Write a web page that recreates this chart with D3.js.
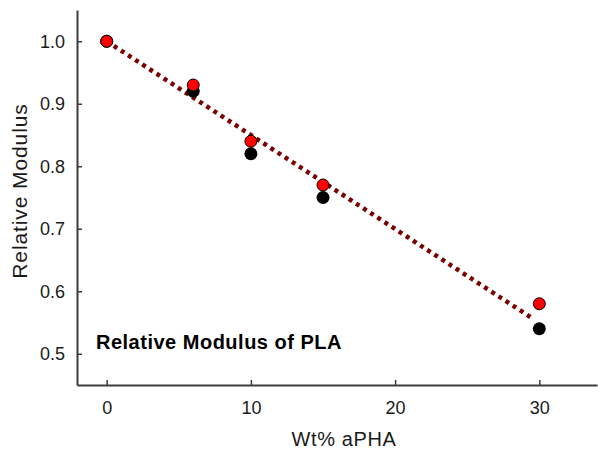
<!DOCTYPE html>
<html>
<head>
<meta charset="utf-8">
<script src="https://cdn.jsdelivr.net/npm/d3@7"></script>
<style>
  html, body { margin: 0; padding: 0; background: #fff; }
  svg { display: block; }
  text { font-family: Arial, "Liberation Sans", sans-serif; }
</style>
</head>
<body>
<svg id="chart" width="598" height="450"></svg>
<script>
// ---- data ----
const xValues = [0, 6, 10, 15, 30];
const blackValues = [1.00, 0.92, 0.82, 0.75, 0.54];
const redValues = [1.00, 0.93, 0.84, 0.77, 0.58];
const fitX = [0, 29.5];
const fitY = [1.0, 0.557];
const xTicks = [0, 10, 20, 30];
const yTicks = [0.5, 0.6, 0.7, 0.8, 0.9, 1.0];
const xTitle = "Wt% aPHA";
const yTitle = "Relative Modulus";
const chartNote = "Relative Modulus of PLA";

// ---- layout ----
const svg = d3.select("#chart");
const mLeft = 77, mRight = 597, mTop = 10, mBottom = 385;

const x = d3.scaleLinear().domain([-2.06, 34]).range([mLeft, mRight]);
const y = d3.scaleLinear().domain([0.45, 1.05]).range([mBottom, mTop]);

const axisColor = "#3c3c3c";
const textColor = "#1a1a1a";

// x axis
const xAxis = svg.append("g")
  .attr("transform", `translate(0,${mBottom})`)
  .call(d3.axisBottom(x).tickValues(xTicks).tickFormat(d3.format("d"))
    .tickSizeInner(-5).tickSizeOuter(0).tickPadding(16));
xAxis.select(".domain").attr("stroke", axisColor).attr("stroke-width", 2);
xAxis.selectAll(".tick line").attr("stroke", axisColor).attr("stroke-width", 1.5);
xAxis.selectAll(".tick text").attr("fill", textColor).attr("font-size", 18)
  .attr("font-family", "Arial, 'Liberation Sans', sans-serif");

// y axis
const yAxis = svg.append("g")
  .attr("transform", `translate(${mLeft},0)`)
  .call(d3.axisLeft(y).tickValues(yTicks).tickFormat(d3.format(".1f"))
    .tickSizeInner(-5).tickSizeOuter(0).tickPadding(12));
yAxis.select(".domain").attr("stroke", axisColor).attr("stroke-width", 2);
yAxis.selectAll(".tick line").attr("stroke", axisColor).attr("stroke-width", 1.5);
yAxis.selectAll(".tick text").attr("fill", textColor).attr("font-size", 18)
  .attr("font-family", "Arial, 'Liberation Sans', sans-serif");

// fit line (dotted)
const line = d3.line().x(d => x(d[0])).y(d => y(d[1]));
svg.append("path")
  .datum(fitX.map((v, i) => [v, fitY[i]]))
  .attr("d", line)
  .attr("fill", "none")
  .attr("stroke", "#7a0000")
  .attr("stroke-width", 4.5)
  .attr("stroke-dasharray", "4,4.5");

// black points
svg.append("g").selectAll("circle")
  .data(xValues.map((v, i) => [v, blackValues[i]]))
  .join("circle")
  .attr("cx", d => x(d[0])).attr("cy", d => y(d[1]))
  .attr("r", 6.5).attr("fill", "#000");

// red points
svg.append("g").selectAll("circle")
  .data(xValues.map((v, i) => [v, redValues[i]]))
  .join("circle")
  .attr("cx", d => x(d[0])).attr("cy", d => y(d[1]))
  .attr("r", 6).attr("fill", "#ff0000")
  .attr("stroke", "#000").attr("stroke-width", 1);

// axis titles
svg.append("text")
  .attr("x", 344).attr("y", 446)
  .attr("text-anchor", "middle")
  .attr("font-size", 20).attr("letter-spacing", 0.6)
  .attr("fill", textColor)
  .text(xTitle);

svg.append("text")
  .attr("transform", "translate(27,191) rotate(-90)")
  .attr("text-anchor", "middle")
  .attr("font-size", 21).attr("letter-spacing", 0.9)
  .attr("fill", textColor)
  .text(yTitle);

// note
svg.append("text")
  .attr("x", 96).attr("y", 349)
  .attr("font-size", 20).attr("font-weight", "bold")
  .attr("letter-spacing", 0.5)
  .attr("fill", "#000")
  .text(chartNote);
</script>
</body>
</html>
